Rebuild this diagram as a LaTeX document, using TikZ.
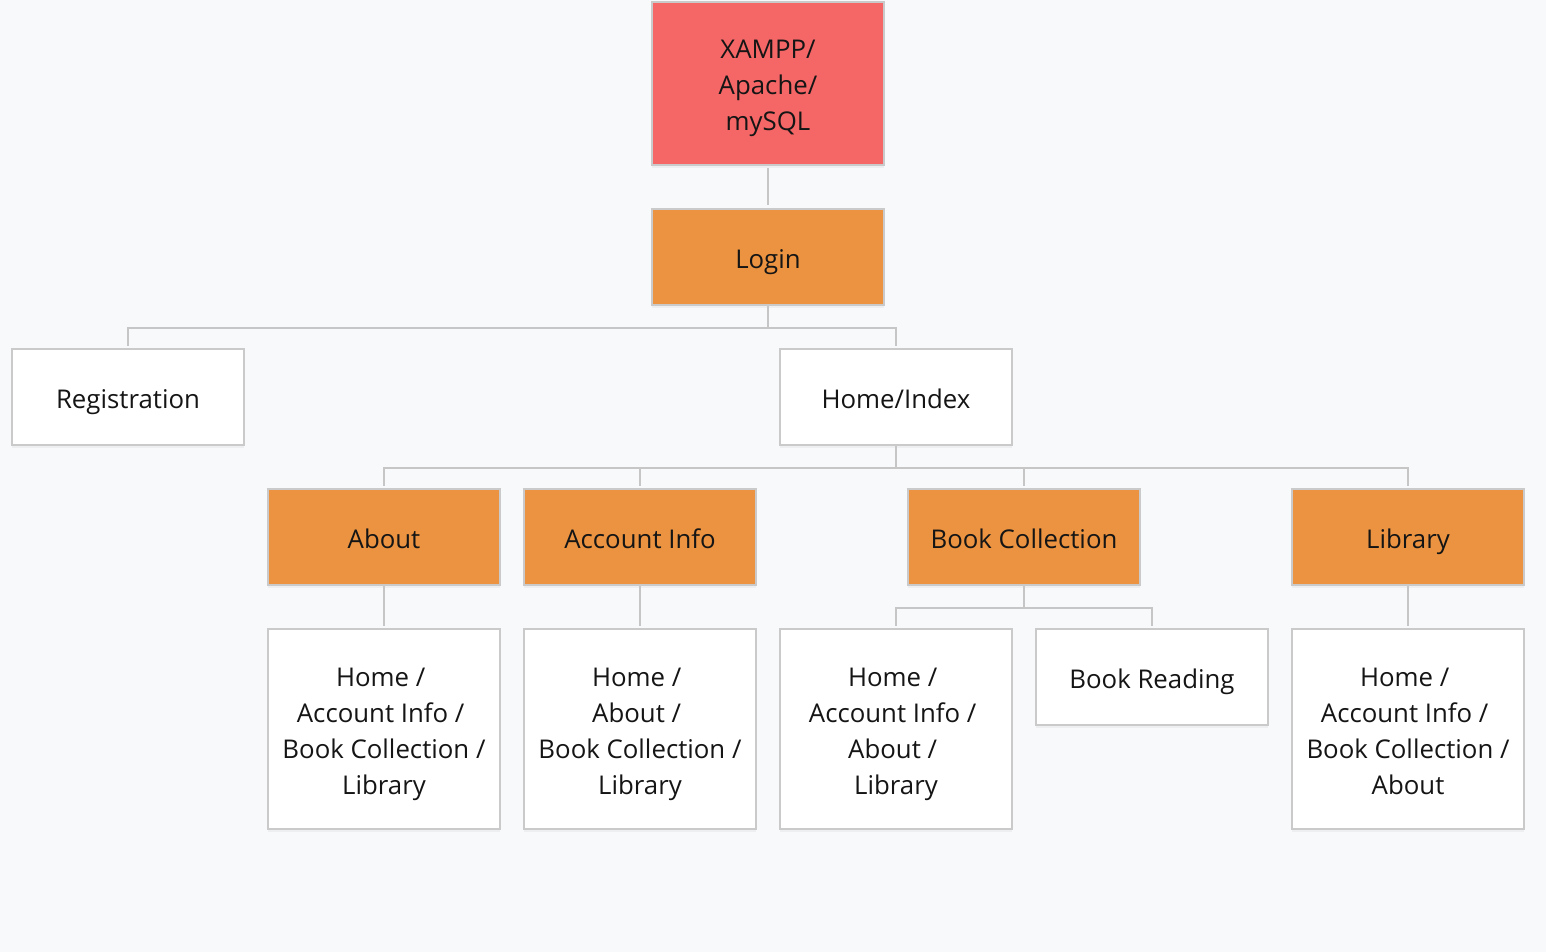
\documentclass[tikz,border=0pt]{standalone}
\usepackage{fontspec}
\setmainfont{Open Sans}
\usetikzlibrary{shadows}
\definecolor{bgc}{HTML}{F8F9FB}
\definecolor{redc}{HTML}{F56666}
\definecolor{orc}{HTML}{EB9340}
\definecolor{edgec}{HTML}{CACACA}
\definecolor{linec}{HTML}{C6C6C6}
\definecolor{txtc}{HTML}{151515}
\newcommand\ls{\rule[-7pt]{0pt}{36pt}}
\newcommand\tsp{\kern6.7pt}
\tikzset{
  box/.style={rectangle, draw=edgec, line width=2pt, minimum width=232pt, inner sep=0pt,
    align=center, text=txtc, font=\fontsize{25.8}{36}\selectfont,
    drop shadow={opacity=0.08, shadow xshift=0pt, shadow yshift=-3pt}},
  wbox/.style={box, fill=white},
  obox/.style={box, fill=orc},
  rbox/.style={box, fill=redc},
  conn/.style={draw=linec, line width=2pt},
}
\begin{document}
\begin{tikzpicture}[x=1pt,y=-1pt]
\fill[bgc] (0,0) rectangle (1546,952);
\useasboundingbox (0,0) rectangle (1546,952);
\node[rbox, minimum height=163pt] (xampp) at (768,83.5) {\ls XAMPP/\\\ls Apache/\\\ls mySQL};
\node[obox, minimum height=96pt] (login) at (768,257) {\ls Login};
\node[wbox, minimum height=96pt] (reg) at (128,397) {\ls Registration};
\node[wbox, minimum height=96pt] (home) at (896,397) {\ls Home/Index};
\node[obox, minimum height=96pt] (about) at (384,537) {\ls About};
\node[obox, minimum height=96pt] (acct) at (640,537) {\ls Account Info};
\node[obox, minimum height=96pt] (bc) at (1024,537) {\ls Book Collection};
\node[obox, minimum height=96pt] (lib) at (1408,537) {\ls Library};
\node[wbox, minimum height=200pt] (about2) at (384,729) {\ls Home /\tsp\\\ls Account Info /\tsp\\\ls Book Collection /\\\ls Library};
\node[wbox, minimum height=200pt] (acct2) at (640,729) {\ls Home /\tsp\\\ls About /\tsp\\\ls Book Collection /\\\ls Library};
\node[wbox, minimum height=200pt] (bc2) at (896,729) {\ls Home /\tsp\\\ls Account Info /\tsp\\\ls About /\tsp\\\ls Library};
\node[wbox, minimum height=96pt] (read) at (1152,677) {\ls Book Reading};
\node[wbox, minimum height=200pt] (lib2) at (1408,729) {\ls Home /\tsp\\\ls Account Info /\tsp\\\ls Book Collection /\\\ls About};
\draw[conn] ([yshift=-2pt]xampp.south) -- ([yshift=3pt]login.north);
\draw[conn] (login.south) -- ++(0,22) -| ([yshift=2pt]reg.north);
\draw[conn] (login.south) ++(0,22) -| ([yshift=2pt]home.north);
\draw[conn] (home.south) -- ++(0,22) -| ([yshift=2pt]about.north);
\draw[conn] (home.south) ++(0,22) -| ([yshift=2pt]acct.north);
\draw[conn] (home.south) ++(0,22) -| ([yshift=2pt]bc.north);
\draw[conn] (home.south) ++(0,22) -| ([yshift=2pt]lib.north);
\draw[conn] (about.south) -- ([yshift=2pt]about2.north);
\draw[conn] (acct.south) -- ([yshift=2pt]acct2.north);
\draw[conn] (lib.south) -- ([yshift=2pt]lib2.north);
\draw[conn] (bc.south) -- ++(0,22) -| ([yshift=2pt]bc2.north);
\draw[conn] (bc.south) ++(0,22) -| ([yshift=2pt]read.north);
\end{tikzpicture}
\end{document}
